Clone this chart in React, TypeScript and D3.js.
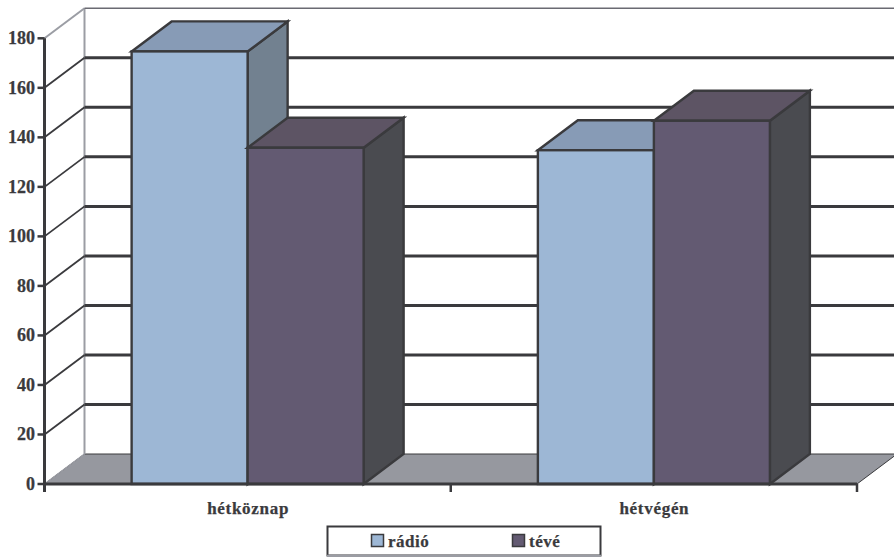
import React from "react";
import * as d3 from "d3";

const categories = ["hétköznap", "hétvégén"];
const seriesNames = ["rádió", "tévé"];
const radio = [174.7, 134.8];
const teve = [135.8, 146.7];
const yTicks = [0, 20, 40, 60, 80, 100, 120, 140, 160, 180];

const W = 894, H = 557;
const DX = 40, DY = -30;
const dark = "#3a3a3d";
const grey = "#9b9da4";
const serif = "'Liberation Serif', serif";
const colors = [
  { front: "#9db7d5", top: "#879bb6", side: "#728190" },
  { front: "#635a72", top: "#5d5464", side: "#4a4b50" },
];

const y = d3.scaleLinear().domain([0, 180]).range([484, 38.3]);
const x0 = d3.scaleBand<string>().domain(categories).range([44.5, 857]);
const x1 = d3.scaleBand<string>().domain(seriesNames).range([-116, 116]);

const poly = (pts: number[][]) => "M" + pts.map((p) => p.join(",")).join("L") + "Z";

export default function App() {
  const base = y(0);
  const right = x0.range()[1];
  const left = x0.range()[0];
  const bars = categories.flatMap((c, ci) =>
    seriesNames.map((s, si) => ({ c, ci, s, si, v: (si === 0 ? radio : teve)[ci] }))
  );
  const textStyle = { stroke: dark, strokeWidth: 0.25 };
  return (
    <svg width={W} height={H} style={{ position: "absolute", left: 0, top: 0, background: "#fff" }}>
      {/* floor */}
      <path
        d={poly([[left, base], [left + DX, base + DY], [right + DX, base + DY], [right, base]])}
        fill="#96989f"
        stroke={dark}
        strokeWidth={1}
      />
      <path d={`M${left},${base}L${left + DX},${base + DY}`} stroke={grey} strokeWidth={1.5} />
      {/* walls */}
      <path d={`M${left + DX},${base + DY}V${y(180) + DY}`} stroke={grey} strokeWidth={2} fill="none" />
      <path d={`M${left},${y(180)}L${left + DX},${y(180) + DY}`} stroke={grey} strokeWidth={2} fill="none" />
      <path d={`M${left + DX},${y(180) + DY}H${W}`} stroke="#6a6a72" strokeWidth={1.5} fill="none" />
      {/* gridlines */}
      {yTicks.filter((t) => t > 0 && t < 180).map((t) => (
        <g key={t} fill="none" stroke={dark}>
          <path d={`M${left},${y(t)}L${left + DX},${y(t) + DY}`} strokeWidth={1.8} />
          <path d={`M${left + DX},${y(t) + DY}H${W}`} strokeWidth={3} />
        </g>
      ))}
      {/* bars */}
      {bars.map((b) => {
        const cx = x0(b.c)! + x0.bandwidth() / 2;
        const xa = cx + x1(b.s)!;
        const xb = xa + x1.bandwidth();
        const yt = y(b.v);
        const col = colors[b.si];
        return (
          <g key={b.c + b.s} stroke={dark} strokeWidth={2.4} strokeLinejoin="miter">
            <path d={poly([[xb, yt], [xb + DX, yt + DY], [xb + DX, base + DY], [xb, base]])} fill={col.side} />
            <path d={poly([[xa, yt], [xa + DX, yt + DY], [xb + DX, yt + DY], [xb, yt]])} fill={col.top} />
            <rect x={xa} y={yt} width={xb - xa} height={base - yt} fill={col.front} />
          </g>
        );
      })}
      {/* axes */}
      <path d={`M${left},${y(180)}V${base + 8}`} stroke={dark} strokeWidth={3} fill="none" />
      <path d={`M${left},${base}H${right}`} stroke={dark} strokeWidth={3} fill="none" />
      {yTicks.map((t) => (
        <g key={t}>
          <path d={`M${left - 7},${y(t)}H${left}`} stroke={dark} strokeWidth={2.5} />
          <text
            x={35}
            y={y(t) + 6}
            textAnchor="end"
            fontFamily={serif}
            fontWeight="bold"
            fontSize={18}
            fill={dark}
            style={textStyle}
          >
            {t}
          </text>
        </g>
      ))}
      {[left, left + x0.step(), right].map((v) => (
        <path key={v} d={`M${v},${base}V${base + 8}`} stroke={dark} strokeWidth={2.5} />
      ))}
      {categories.map((c) => (
        <text
          key={c}
          x={x0(c)! + x0.bandwidth() / 2 + 0.5}
          y={514}
          textAnchor="middle"
          fontFamily={serif}
          fontWeight="bold"
          fontSize={17}
          letterSpacing={0.7}
          fill={dark}
          style={textStyle}
        >
          {c}
        </text>
      ))}
      {/* legend */}
      <rect x={327.5} y={526.5} width={273} height={29} fill="#fff" stroke={dark} strokeWidth={2} />
      <path d={`M327,555.7H601`} stroke={grey} strokeWidth={2} />
      {seriesNames.map((s, i) => {
        const lx = [371, 512][i];
        return (
          <g key={s}>
            <rect x={lx + 0.5} y={534.5} width={12} height={12} fill={colors[i].front} stroke={dark} strokeWidth={1.5} />
            <text
              x={lx + 17}
              y={546.5}
              fontFamily={serif}
              fontWeight="bold"
              fontSize={17}
              letterSpacing={0.5}
              fill={dark}
              style={textStyle}
            >
              {s}
            </text>
          </g>
        );
      })}
    </svg>
  );
}
